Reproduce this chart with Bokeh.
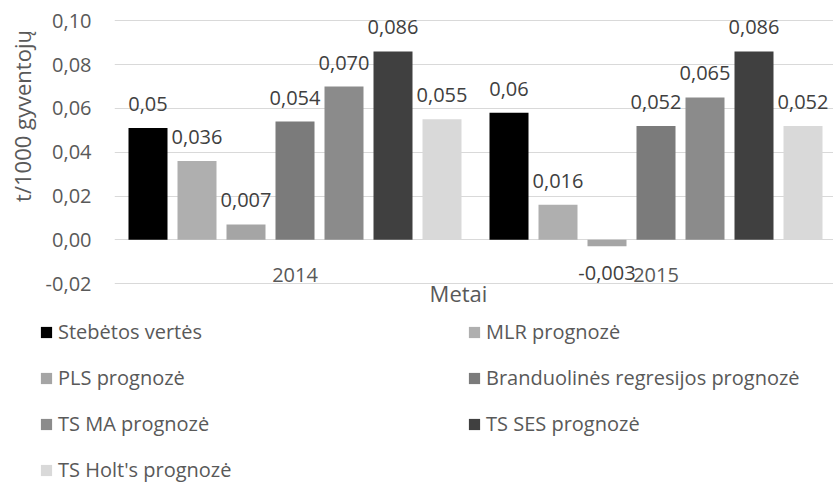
import math
from bokeh.plotting import figure
from bokeh.layouts import column, row
from bokeh.models import (Range1d, FixedTicker, CustomJSTickFormatter, Legend,
                          LegendItem, Label, ColumnDataSource)
from bokeh.core.properties import value
from bokeh.embed import file_html
from bokeh.resources import INLINE

# ---------------- data ----------------
years = ["2014", "2015"]
series_names = ["Stebėtos vertės", "MLR prognozė", "PLS prognozė",
                "Branduolinės regresijos prognozė", "TS MA prognozė",
                "TS SES prognozė", "TS Holt's prognozė"]
stebetos = [0.051, 0.058]
mlr = [0.036, 0.016]
pls = [0.007, -0.003]
branduolines = [0.054, 0.052]
ts_ma = [0.070, 0.065]
ts_ses = [0.086, 0.086]
ts_holt = [0.055, 0.052]
value_labels = [["0,05", "0,06"], ["0,036", "0,016"], ["0,007", "-0,003"],
                ["0,054", "0,052"], ["0,070", "0,065"], ["0,086", "0,086"],
                ["0,055", "0,052"]]
y_ticks = [-0.02, 0.0, 0.02, 0.04, 0.06, 0.08, 0.10]
y_title = "t/1000 gyventojų"
x_title = "Metai"

series_values = [stebetos, mlr, pls, branduolines, ts_ma, ts_ses, ts_holt]
colors = ["#000000", "#afafaf", "#a5a5a5", "#7b7b7b", "#8b8b8b", "#404040", "#d9d9d9"]

FONT = "Open Sans"
TXT = "#595959"
CAT_PX = 361.0
STEP = 49.0 / CAT_PX
BAR_W = 39.0 / CAT_PX
W = 833
TW = 40                 # width of the strip holding the y-axis title
PH, LH = 310, 173
LEFT, TOP = 114, 18
PPU = 2190.0
ZERO_Y = 239.3

# ---------------- y-axis title strip ----------------
t = figure(width=TW, height=PH, output_backend="svg", toolbar_location=None,
           x_range=Range1d(0, TW), y_range=Range1d(PH, 0),
           x_axis_type=None, y_axis_type=None,
           min_border_left=0, min_border_right=0, min_border_top=0, min_border_bottom=0)
t.frame_align = False
t.outline_line_color = None
t.xgrid.visible = False
t.ygrid.visible = False
t.add_layout(Label(x=21, y=115.5, text=y_title, angle=math.pi / 2,
                   text_align="center", text_baseline="middle",
                   text_font=FONT, text_font_size="22px", text_color=TXT))

# ---------------- main chart ----------------
p = figure(width=W - TW, height=PH, output_backend="svg", toolbar_location=None,
           x_range=Range1d(0, (W - LEFT) / CAT_PX),
           y_range=Range1d(-(PH - ZERO_Y) / PPU, (ZERO_Y - TOP) / PPU),
           min_border_left=LEFT - TW, min_border_right=0, min_border_top=TOP,
           min_border_bottom=0)
p.frame_align = False
p.outline_line_color = None
p.xaxis.visible = False
p.xgrid.visible = False

yt = FixedTicker(ticks=y_ticks)
p.yaxis.ticker = yt
p.ygrid.ticker = yt
p.ygrid.grid_line_color = "#d9d9d9"
p.ygrid.grid_line_width = 1
p.yaxis.formatter = CustomJSTickFormatter(code="return tick.toFixed(2).replace('.', ',');")
p.yaxis.axis_line_color = None
p.yaxis.major_tick_line_color = None
p.yaxis.minor_tick_line_color = None
p.yaxis.major_tick_out = 0
p.yaxis.major_label_text_font = FONT
p.yaxis.major_label_text_font_size = "20px"
p.yaxis.major_label_text_color = TXT
p.yaxis.major_label_standoff = 23

sources = []
for j, (vals, col, labs) in enumerate(zip(series_values, colors, value_labels)):
    xs = [i + 0.5 + (j - 3) * STEP for i in range(len(years))]
    offs = [-24 if v >= 0 else 27 for v in vals]
    src = ColumnDataSource(dict(x=xs, top=vals, lab=labs, off=offs))
    sources.append(src)
    p.vbar(x="x", top="top", width=BAR_W, bottom=0, source=src,
           fill_color=col, line_color=None)
    p.text(x="x", y="top", text="lab", y_offset="off", source=src,
           text_align="center", text_baseline="middle",
           text_font=value(FONT), text_font_size="20px", text_color="#404040")

# category labels at the zero line
cat_src = ColumnDataSource(dict(x=[i + 0.5 for i in range(len(years))],
                                y=[0] * len(years), t=years))
p.text(x="x", y="y", text="t", source=cat_src, y_offset=35,
       text_align="center", text_baseline="middle",
       text_font=value(FONT), text_font_size="20px", text_color=TXT)

p.add_layout(Label(x=(458 - LEFT) / CAT_PX, y=-(292.5 - ZERO_Y) / PPU, text=x_title,
                   text_align="center", text_baseline="middle",
                   text_font=FONT, text_font_size="22px", text_color=TXT))

# ---------------- legend panel ----------------
q = figure(width=W, height=LH, output_backend="svg", toolbar_location=None,
           x_range=p.x_range, y_range=p.y_range,
           x_axis_type=None, y_axis_type=None,
           min_border_left=0, min_border_right=0, min_border_top=0, min_border_bottom=0)
q.frame_align = False
q.outline_line_color = None
q.xgrid.visible = False
q.ygrid.visible = False
proxies = [q.vbar(x="x", top="top", width=BAR_W, bottom=0, source=s,
                  fill_color=c, line_color=None, visible=False)
           for s, c in zip(sources, colors)]

legend_kw = dict(glyph_width=14, glyph_height=14, label_standoff=5, label_height=14,
                 spacing=19, padding=0, margin=0, border_line_color=None,
                 background_fill_alpha=0, label_text_font=FONT,
                 label_text_font_size="20px", label_text_color=TXT)
left_items = [LegendItem(label=series_names[k], renderers=[proxies[k]]) for k in (0, 2, 4, 6)]
right_items = [LegendItem(label=series_names[k], renderers=[proxies[k]]) for k in (1, 3, 5)]
q.add_layout(Legend(items=left_items, location=(39, 0), **legend_kw), "center")
q.add_layout(Legend(items=right_items, location=(467, 46), **legend_kw), "center")

layout = column(row(t, p, spacing=0), q, spacing=0)
open("out.html", "w").write(file_html(layout, INLINE))
